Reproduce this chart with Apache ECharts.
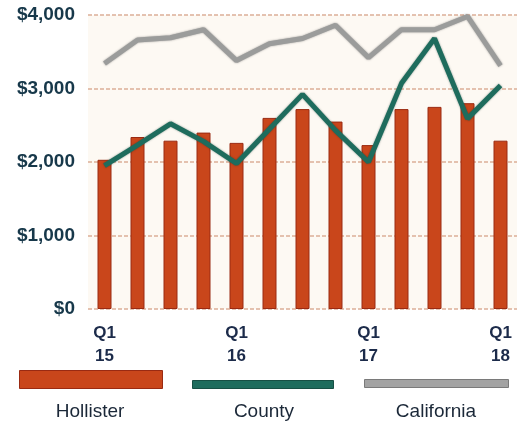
<!DOCTYPE html>
<html>
<head>
<meta charset="utf-8">
<script src="https://cdn.jsdelivr.net/npm/echarts@6/dist/echarts.min.js"></script>
<style>
  html, body { margin:0; padding:0; background:#fff; }
  #chart { width:526px; height:426px; }
</style>
</head>
<body>
<div id="chart"></div>
<script>
var quarters = ['Q1\n15','Q2 15','Q3 15','Q4 15','Q1\n16','Q2 16','Q3 16','Q4 16','Q1\n17','Q2 17','Q3 17','Q4 17','Q1\n18'];
var hollister = [2030, 2340, 2290, 2400, 2260, 2600, 2720, 2550, 2230, 2720, 2750, 2800, 2290];
var county = [1950, 2230, 2520, 2280, 1980, 2450, 2920, 2430, 2000, 3070, 3680, 2590, 3040];
var california = [3340, 3660, 3690, 3800, 3380, 3610, 3680, 3860, 3420, 3800, 3800, 3980, 3310];
var yTicks = [0, 1000, 2000, 3000, 4000];

var fontNarrow = "'Liberation Sans Narrow', 'Liberation Sans', Arial, sans-serif";

var chart = echarts.init(document.getElementById('chart'));

var options = {
    backgroundColor:'#ffffff',
    animation:false,
    grid:{
        show:true,
        backgroundColor:'#fdf9f3',
        borderWidth:0,
        left:88,
        right:9,
        top:15,
        bottom:117
    },
    xAxis:{
        type:'category',
        data:quarters,
        axisLine:{show:false},
        axisTick:{show:false},
        axisLabel:{
            interval:function (i) { return i % 4 === 0; },
            formatter:function (v) { return v.indexOf('\n') >= 0 ? v : ''; },
            margin:13,
            fontFamily:fontNarrow,
            fontWeight:'bold',
            fontSize:17,
            lineHeight:23,
            color:'#1c2b4a'
        }
    },
    yAxis:{
        type:'value',
        min:yTicks[0],
        max:yTicks[yTicks.length - 1],
        interval:1000,
        axisLine:{show:false},
        axisTick:{show:false},
        splitLine:{
            lineStyle:{color:'#dcae98', width:1.5, type:[4,2]}
        },
        axisLabel:{
            margin:13,
            fontFamily:fontNarrow,
            fontWeight:'bold',
            fontSize:19,
            color:'#17384a',
            formatter:function (v) {
                return '$' + v.toString().replace(/\B(?=(\d{3})+(?!\d))/g, ',');
            }
        }
    },
    series:[
        {
            name:'Hollister',
            type:'bar',
            data:hollister,
            barWidth:14,
            itemStyle:{color:'#c9461b', borderColor:'#9a2a12', borderWidth:1}
        },
        {
            name:'California',
            type:'line',
            data:california,
            showSymbol:false,
            lineStyle:{color:'#9b9c9b', width:5, shadowColor:'rgba(60,60,60,0.5)', shadowBlur:2}
        },
        {
            name:'County',
            type:'line',
            data:county,
            showSymbol:false,
            lineStyle:{color:'#1e6c5d', width:5, shadowColor:'rgba(10,50,40,0.5)', shadowBlur:2}
        }
    ],
    graphic:[
        {type:'rect', left:19, top:370, shape:{width:143, height:18},
         style:{fill:'#c9461b', stroke:'#9a2a12', lineWidth:1}},
        {type:'rect', left:192, top:380, shape:{width:141, height:8},
         style:{fill:'#1e6c5d', stroke:'#174f44', lineWidth:1}},
        {type:'rect', left:364, top:379, shape:{width:144, height:8},
         style:{fill:'#a3a3a3', stroke:'#7a7a7a', lineWidth:1}},
        {type:'text', x:90, y:412, style:{text:'Hollister', fill:'#1b2838', font:"19px " + fontNarrow, align:'center', verticalAlign:'middle'}},
        {type:'text', x:264, y:412, style:{text:'County', fill:'#1b2838', font:"19px " + fontNarrow, align:'center', verticalAlign:'middle'}},
        {type:'text', x:436, y:412, style:{text:'California', fill:'#1b2838', font:"19px " + fontNarrow, align:'center', verticalAlign:'middle'}}
    ]
};

chart.setOption(options);
</script>
</body>
</html>
